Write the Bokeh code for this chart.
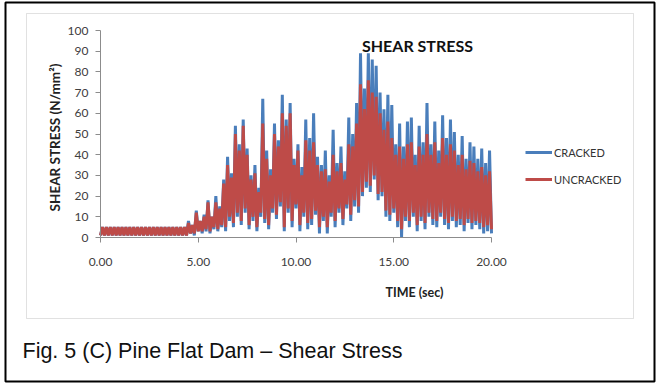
import numpy as np
from bokeh.plotting import figure
from bokeh.models import (Range1d, FixedTicker, Label, BoxAnnotation, Legend, LegendItem)
from bokeh.embed import file_html
from bokeh.resources import INLINE

# ---------------- data ----------------
x_ticks = [0, 5, 10, 15, 20]
x_tick_labels = ["0.00", "5.00", "10.00", "15.00", "20.00"]
y_ticks = [0, 10, 20, 30, 40, 50, 60, 70, 80, 90, 100]

peak_step = 0.2  # seconds between successive peaks

cracked_peaks = [
    5, 5, 5, 5, 5, 5, 5, 5, 5, 5, 5, 5, 5, 5, 5, 5, 5, 5, 5, 5, 5, 5,
    8, 6, 13, 8, 11, 18, 10, 20, 15, 28, 39, 31, 54, 45, 57, 43, 30, 35,
    24, 67, 42, 33, 55, 47, 69, 57, 65, 38, 45, 34, 57, 48, 60, 39, 35, 42,
    30, 52, 36, 44, 32, 58, 50, 65, 89, 72, 89, 86, 83, 70, 62, 69, 64, 45,
    55, 44, 56, 58, 40, 54, 46, 65, 45, 56, 42, 59, 48, 57, 51, 40, 49, 38,
    46, 44, 38, 43, 36, 42,
]
uncracked_peaks = [
    5, 5, 5, 5, 5, 5, 5, 5, 5, 5, 5, 5, 5, 5, 5, 5, 5, 5, 5, 5, 5, 5,
    7, 6, 12, 8, 10, 17, 10, 17, 14, 26, 35, 29, 50, 42, 54, 40, 28, 31,
    22, 55, 38, 30, 50, 44, 60, 54, 60, 35, 42, 30, 47, 42, 46, 35, 32, 33,
    27, 40, 32, 36, 28, 45, 44, 55, 74, 62, 76, 70, 68, 60, 52, 56, 48, 40,
    44, 38, 45, 46, 35, 44, 40, 50, 40, 46, 36, 48, 40, 45, 42, 35, 40, 33,
    37, 36, 32, 34, 30, 32,
]
cracked_troughs = [
    1, 1, 1, 1, 1, 1, 1, 1, 1, 1, 1, 1, 1, 1, 1, 1, 1, 1, 1, 1, 1, 1, 1,
    2, 1, 3, 2, 3, 2, 4, 3, 5, 3, 8, 5, 10, 6, 12, 4, 8, 3, 10, 7, 4, 12,
    9, 15, 3, 12, 5, 14, 3, 10, 4, 6, 11, 2, 8, 2, 10, 5, 12, 6, 14, 8, 15,
    12, 20, 24, 22, 28, 18, 20, 10, 8, 12, 5, 0, 8, 5, 10, 3, 8, 4, 10, 6,
    5, 10, 6, 4, 8, 5, 6, 3, 7, 4, 6, 4, 2, 3, 2,
]
uncracked_troughs = [
    1, 1, 1, 1, 1, 1, 1, 1, 1, 1, 1, 1, 1, 1, 1, 1, 1, 1, 1, 1, 1, 1, 1,
    2, 2, 3, 3, 4, 3, 5, 4, 6, 5, 10, 7, 12, 8, 14, 6, 10, 5, 12, 9, 6, 14,
    11, 17, 5, 14, 8, 16, 6, 12, 7, 9, 13, 5, 10, 5, 12, 8, 14, 9, 16, 11, 18,
    15, 22, 27, 25, 30, 21, 22, 13, 11, 14, 8, 4, 10, 8, 12, 6, 10, 7, 12, 9,
    8, 12, 9, 7, 10, 8, 9, 6, 9, 7, 8, 7, 5, 6, 4,
]


def zigzag(peaks, troughs):
    t, v = [], []
    for i, pk in enumerate(peaks):
        t += [i * peak_step, i * peak_step + peak_step / 2]
        v += [troughs[i], pk]
    t.append(len(peaks) * peak_step)
    v.append(troughs[len(peaks)])
    return t, v


t_c, v_c = zigzag(cracked_peaks, cracked_troughs)
t_u, v_u = zigzag(uncracked_peaks, uncracked_troughs)

# ---------------- styling / layout ----------------
FONT = "Lato"
CAP_FONT = "Liberation Sans"
BLUE = "#4A7EBB"
RED = "#BE4B48"
AXIS = "#8c8c8c"

W, H = 657, 383
# pixel position of the plotting area (data 0..20, 0..100)
PL, PR, PT, PB = 100, 491, 30, 237
# outer figure frame (black border)
FL, FR, FT, FB = 5, 654, 2, 381

sx = (PR - PL) / 20.0
sy = (PB - PT) / 100.0


def dx(px):
    return (px - PL) / sx


def dy(py):
    return (PB - py) / sy


p = figure(
    frame_width=FR - FL, frame_height=FB - FT,
    min_border_left=FL, min_border_right=W - FR,
    min_border_top=FT, min_border_bottom=H - FB,
    x_range=Range1d(dx(FL), dx(FR)), y_range=Range1d(dy(FB), dy(FT)),
    output_backend="svg", toolbar_location=None,
)
p.background_fill_color = "white"
p.border_fill_color = "white"
p.outline_line_color = "black"
p.outline_line_width = 2
p.xgrid.visible = False
p.ygrid.visible = False

p.xaxis.ticker = FixedTicker(ticks=x_ticks)
p.xaxis.major_label_overrides = {t: s for t, s in zip(x_ticks, x_tick_labels)}
p.xaxis.bounds = (0, 20)
p.xaxis.fixed_location = 0
p.yaxis.ticker = FixedTicker(ticks=y_ticks)
p.yaxis.bounds = (0, 100)
p.yaxis.fixed_location = 0
for ax in (p.xaxis, p.yaxis):
    ax.axis_line_color = AXIS
    ax.major_tick_line_color = AXIS
    ax.minor_tick_line_color = None
    ax.major_tick_in = 0
    ax.major_tick_out = 5
    ax.major_label_text_font = FONT
    ax.major_label_text_font_size = "12px"
    ax.major_label_text_color = "#404040"
p.xaxis.major_label_standoff = 15
p.yaxis.major_label_standoff = 7

# inner grey chart-area border
p.add_layout(BoxAnnotation(left=dx(26), right=dx(633), top=dy(13), bottom=dy(318),
                           fill_alpha=0, line_color="#9a9a9a", line_width=1, level="underlay"))

r_c = p.line(t_c, v_c, line_color=BLUE, line_width=3)
r_u = p.line(t_u, v_u, line_color=RED, line_width=3)

legend = Legend(items=[LegendItem(label="CRACKED", renderers=[r_c]),
                       LegendItem(label="UNCRACKED", renderers=[r_u])],
                location=(525 - FL, FB - 187))
legend.padding = 0
legend.margin = 0
legend.spacing = 11
legend.glyph_width = 27
legend.glyph_height = 16
legend.label_height = 16
legend.label_standoff = 2
legend.border_line_color = None
legend.background_fill_alpha = 0
legend.label_text_font = FONT
legend.label_text_font_size = "11px"
legend.label_text_color = "#333333"
p.add_layout(legend)

# titles
p.add_layout(Label(x=dx(417), y=dy(45), text="SHEAR STRESS", text_font=FONT,
                   text_font_style="bold", text_font_size="16px",
                   text_align="center", text_baseline="middle", text_color="#111111"))
p.add_layout(Label(x=dx(414), y=dy(292), text="TIME (sec)", text_font=FONT,
                   text_font_style="bold", text_font_size="12.5px",
                   text_align="center", text_baseline="middle", text_color="#222222"))
p.add_layout(Label(x=dx(54), y=dy(137), text="SHEAR STRESS (N/mm²)", text_font=FONT,
                   text_font_style="bold", text_font_size="13.5px", angle=np.pi / 2,
                   text_align="center", text_baseline="middle", text_color="#222222"))
p.add_layout(Label(x=dx(22), y=dy(350), text="Fig. 5 (C) Pine Flat Dam – Shear Stress",
                   text_font=CAP_FONT, text_font_size="21.5px",
                   text_align="left", text_baseline="middle", text_color="#111111"))

open("out.html", "w").write(file_html(p, INLINE))
